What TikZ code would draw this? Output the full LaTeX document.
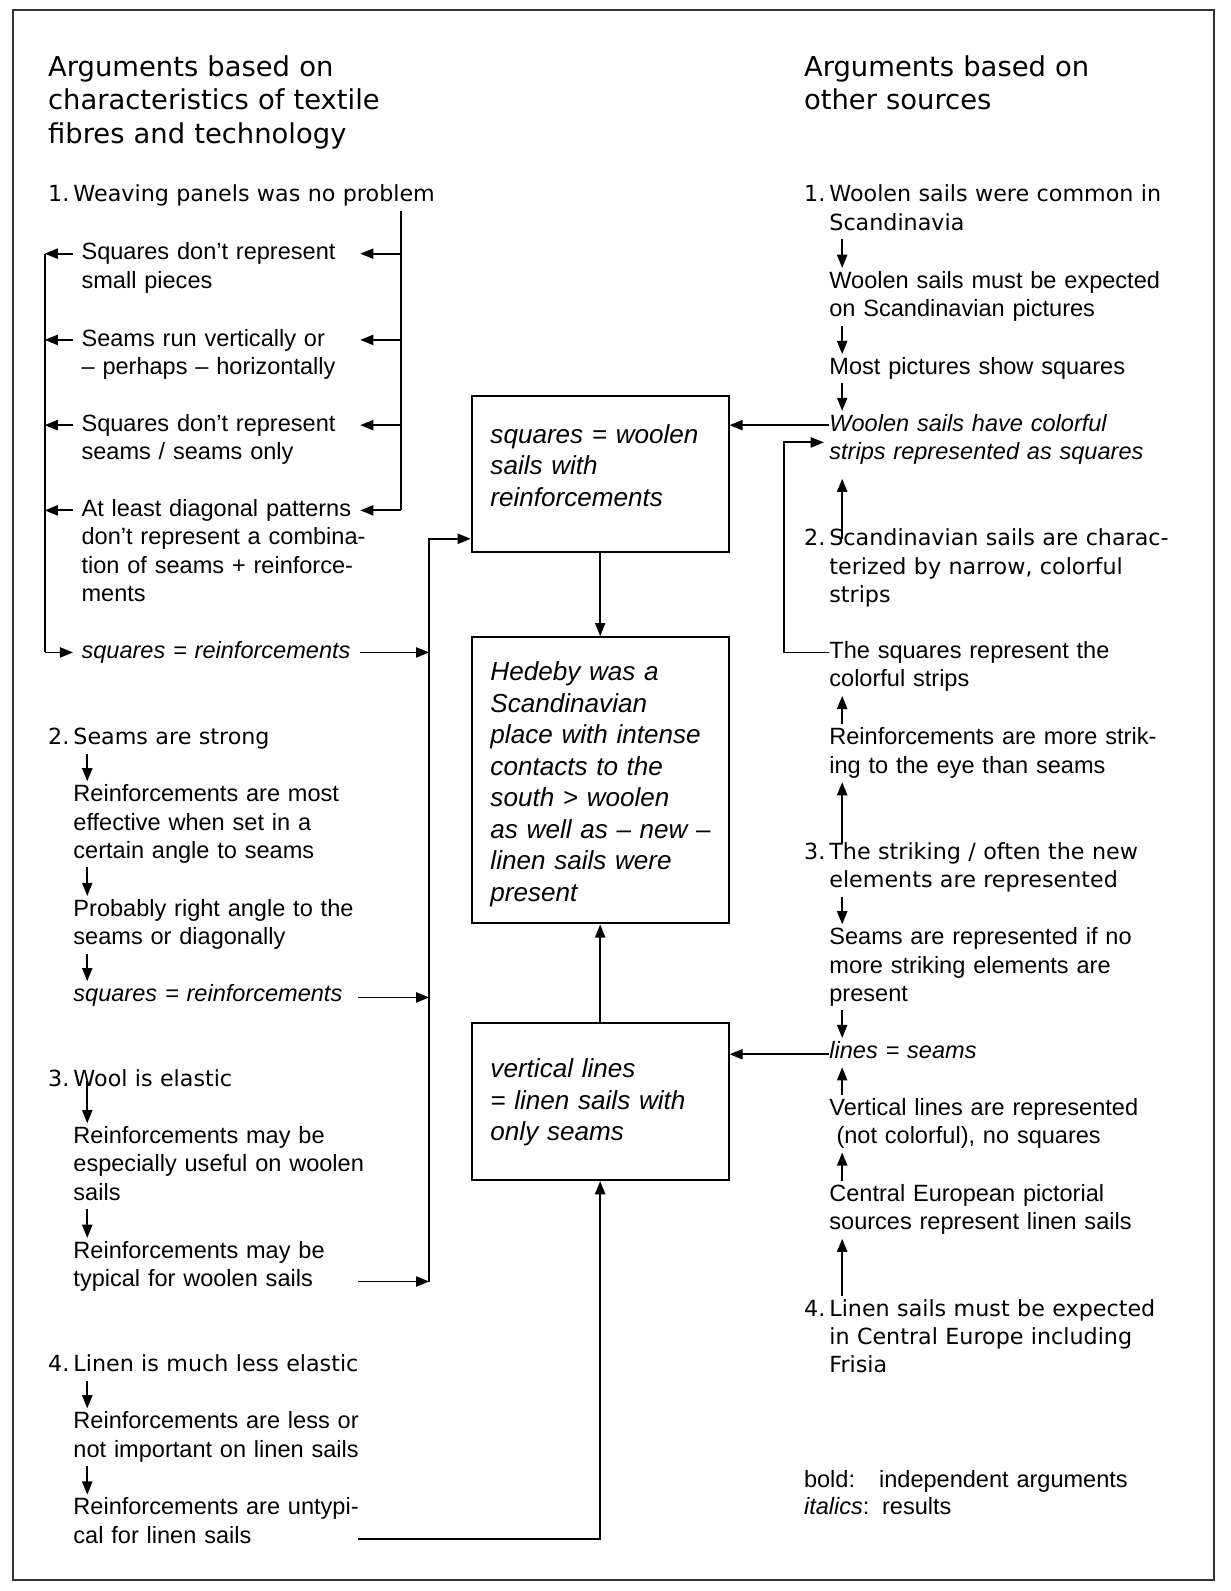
\documentclass[tikz,border=0pt]{standalone}
\usepackage{fontspec}
\setmainfont{Liberation Sans}
\newfontfamily\numf{DejaVu Sans}
\usetikzlibrary{arrows.meta}
\begin{document}
\begin{tikzpicture}[x=0.5pt,y=-0.5pt]
\tikzset{
  ln/.style={line width=0.9pt},
  arr/.style={ln, -{Triangle[length=6.5pt,width=5pt]}},
  txt/.style={inner sep=0pt, anchor=base west, yshift=-1.5pt, text width=200pt, align=left, font=\fontsize{11.6pt}{14pt}\selectfont},
  res/.style={txt, font=\itshape\fontsize{11.6pt}{14pt}\selectfont},
  num/.style={txt, font=\numf\fontsize{10.95pt}{14pt}\selectfont},
  head/.style={txt, font=\numf\fontsize{13.5pt}{16.5pt}\selectfont},
  boxtxt/.style={txt, font=\itshape\fontsize{12.85pt}{15.5pt}\selectfont},
  sbox/.style={draw, line width=1pt, minimum width=126.5pt, inner sep=0pt},
  frame/.style={draw=black!80, line width=1pt}
}
\useasboundingbox (0,0) rectangle (1213,1568);
\draw[frame] (13,10) rectangle (1196,1557);

% helper x positions
\coordinate (lx) at (86,0);
\coordinate (rx) at (830,0);
\coordinate (v1) at (395,0);
\coordinate (t1) at (355,0);
\coordinate (t2) at (353,0);
\coordinate (lv) at (44,0);
\coordinate (trunk) at (423,0);
\coordinate (ev) at (773,0);

% headings
\node[head] (hl) at (47,72) {Arguments based on\\characteristics of textile\\fibres and technology};
\node[head] (hr) at (792,72) {Arguments based on\\other sources};

% boxes
\node[sbox, minimum height=77pt] (box1) at (591.5,467) {};
\node[sbox, minimum height=141pt] (box2) at (591.5,769) {};
\node[sbox, minimum height=77.5pt] (box3) at (591.5,1085.5) {};
\node[boxtxt] (b1t) at (483,434) {squares = woolen\\sails with\\reinforcements};
\node[boxtxt] (b2t) at (483,668) {Hedeby was a\\Scandinavian\\place with intense\\contacts to the\\south > woolen\\as well as – new –\\linen sails were\\present};
\node[boxtxt] (b3t) at (483,1059) {vertical lines\\= linen sails with\\only seams};

% left column, argument 1
\node[num] (L1) at (72,196) {\strut\llap{1.\hspace{2pt}}Weaving panels was no problem\strut};
\node[txt] (L1a) at (80,253) {\strut Squares don’t represent\\small pieces\strut};
\node[txt] (L1b) at (80,338) {\strut Seams run vertically or\\– perhaps – horizontally\strut};
\node[txt] (L1c) at (80,422) {\strut Squares don’t represent\\seams / seams only\strut};
\node[txt] (L1d) at (80,506) {\strut At least diagonal patterns\\don’t represent a combina-\\tion of seams + reinforce-\\ments\strut};
\node[res] (L1e) at (80,646) {\strut squares = reinforcements\strut};

% left column, argument 2
\node[num] (L2) at (72,731) {\strut\llap{2.\hspace{2pt}}Seams are strong\strut};
\node[txt] (L2b) at (72,787) {\strut Reinforcements are most\\effective when set in a\\certain angle to seams\strut};
\node[txt] (L2c) at (72,900) {\strut Probably right angle to the\\seams or diagonally\strut};
\node[res] (L2d) at (72,984) {\strut squares = reinforcements\strut};

% left column, argument 3
\node[num] (L3) at (72,1068) {\strut\llap{3.\hspace{2pt}}Wool is elastic\strut};
\node[txt] (L3b) at (72,1124) {\strut Reinforcements may be\\especially useful on woolen\\sails\strut};
\node[txt] (L3c) at (72,1237) {\strut Reinforcements may be\\typical for woolen sails\strut};

% left column, argument 4
\node[num] (L4) at (72,1349) {\strut\llap{4.\hspace{2pt}}Linen is much less elastic\strut};
\node[txt] (L4b) at (72,1405) {\strut Reinforcements are less or\\not important on linen sails\strut};
\node[txt] (L4c) at (72,1490) {\strut Reinforcements are untypi-\\cal for linen sails\strut};

% right column
\node[num] (R1) at (817,196) {\strut\llap{1.\hspace{2pt}}Woolen sails were common in\\Scandinavia\strut};
\node[txt] (R1b) at (817,281) {\strut Woolen sails must be expected\\on Scandinavian pictures\strut};
\node[txt] (R1c) at (817,366) {\strut Most pictures show squares\strut};
\node[res] (R1d) at (817,422) {\strut Woolen sails have colorful\\strips represented as squares\strut};
\node[num] (R2) at (817,535) {\strut\llap{2.\hspace{2pt}}Scandinavian sails are charac-\\terized by narrow, colorful\\strips\strut};
\node[txt] (R2c) at (817,646) {\strut The squares represent the\\colorful strips\strut};
\node[txt] (R2d) at (817,731) {\strut Reinforcements are more strik-\\ing to the eye than seams\strut};
\node[num] (R3) at (817,844) {\strut\llap{3.\hspace{2pt}}The striking / often the new\\elements are represented\strut};
\node[txt] (R3b) at (817,928) {\strut Seams are represented if no\\more striking elements are\\present\strut};
\node[res] (R3c) at (817,1040) {\strut lines = seams\strut};
\node[txt] (R3d) at (817,1096) {\strut Vertical lines are represented\\\hspace*{3.5pt}(not colorful), no squares\strut};
\node[txt] (R3e) at (817,1181) {\strut Central European pictorial\\sources represent linen sails\strut};
\node[num] (R4) at (817,1294) {\strut\llap{4.\hspace{2pt}}Linen sails must be expected\\in Central Europe including\\Frisia\strut};

% legend
\node[txt, font=\fontsize{11.6pt}{13.5pt}\selectfont] (leg) at (792,1463) {\makebox[37pt][l]{bold:}independent arguments\\\makebox[38.5pt][l]{\textit{italics}:}results};

% ---- connectors: left argument 1
\coordinate (p1a) at ([yshift=3pt]L1a.base west);
\coordinate (p1b) at ([yshift=3pt]L1b.base west);
\coordinate (p1c) at ([yshift=3pt]L1c.base west);
\coordinate (p1d) at ([yshift=3pt]L1d.base west);
\coordinate (p1e) at ([yshift=3pt]L1e.base west);
\draw[ln] (v1 |- L1.south) -- (v1 |- p1d);
\foreach \p in {p1a,p1b,p1c,p1d}{
  \draw[arr] (v1 |- \p) -- (t1 |- \p);
  \draw[arr] ([xshift=-4pt]\p) -- (lv |- \p);
}
\draw[ln] (lv |- p1a) -- (lv |- p1e);
\draw[arr] (lv |- p1e) -- ([xshift=-4pt]p1e);
\draw[arr] (t1 |- p1e) -- (trunk |- p1e);

% trunk to box1
\coordinate (b1in) at ([yshift=7pt]box1.south west);
\coordinate (p3c) at ([yshift=-11.5pt]L3c.base west);
\draw[arr] (trunk |- p3c) -- (trunk |- b1in) -- (b1in);
\draw[arr] (t2 |- p3c) -- (trunk |- p3c);

% left argument 2
\draw[arr] (L2.south -| lx) -- (L2b.north -| lx);
\draw[arr] (L2b.south -| lx) -- (L2c.north -| lx);
\draw[arr] (L2c.south -| lx) -- (L2d.north -| lx);
\coordinate (p2d) at ([yshift=2pt]L2d.base west);
\draw[arr] (t2 |- p2d) -- (trunk |- p2d);

% left argument 3
\coordinate (p3) at ([yshift=3pt]L3.base west);
\draw[arr] (lx |- p3) -- (L3b.north -| lx);
\draw[arr] (L3b.south -| lx) -- (L3c.north -| lx);

% left argument 4
\draw[arr] (L4.south -| lx) -- (L4b.north -| lx);
\draw[arr] (L4b.south -| lx) -- (L4c.north -| lx);
\coordinate (p4c) at ([yshift=-12pt]L4c.base west);
\draw[arr] (t2 |- p4c) -- (box3.south |- p4c) -- (box3.south);

% centre
\draw[arr] (box1.south) -- (box2.north);
\draw[arr] (box3.north) -- (box2.south);

% right column
\draw[arr] (R1.south -| rx) -- (R1b.north -| rx);
\draw[arr] (R1b.south -| rx) -- (R1c.north -| rx);
\draw[arr] (R1c.south -| rx) -- (R1d.north -| rx);
\coordinate (pR1d) at ([yshift=3pt]R1d.base west);
\draw[arr] (pR1d) -- (box1.east |- pR1d);
\draw[arr, shorten <=-6.5pt, shorten >=5pt] (R2.north -| rx) -- (R1d.south -| rx);
\coordinate (pR2c) at ([yshift=3pt]R2c.base west);
\coordinate (pR1d2) at ([xshift=-2.5pt,yshift=-5.5pt]R1d.base west);
\draw[arr] (pR2c) -- (ev |- pR2c) -- (ev |- pR1d2) -- (pR1d2);
\draw[arr] (R2d.north -| rx) -- (R2c.south -| rx);
\draw[arr, shorten <=-2pt] (R3.north -| rx) -- (R2d.south -| rx);
\draw[arr] (R3.south -| rx) -- (R3b.north -| rx);
\draw[arr] (R3b.south -| rx) -- (R3c.north -| rx);
\coordinate (pR3c) at ([yshift=2pt]R3c.base west);
\draw[arr] (pR3c) -- (box3.east |- pR3c);
\draw[arr] (R3d.north -| rx) -- (R3c.south -| rx);
\draw[arr] (R3e.north -| rx) -- (R3d.south -| rx);
\draw[arr] (R4.north -| rx) -- (R3e.south -| rx);
\end{tikzpicture}
\end{document}
